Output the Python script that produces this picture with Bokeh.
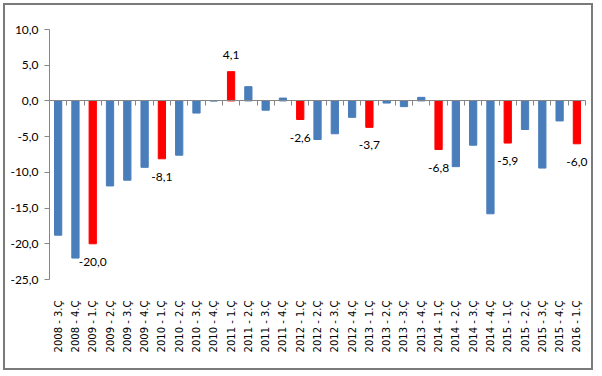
from bokeh.plotting import figure
from bokeh.models import (Range1d, LinearAxis, FixedTicker, LabelSet,
                          CustomJSTickFormatter, ColumnDataSource)
from bokeh.core.properties import value
from bokeh.embed import file_html
from bokeh.resources import INLINE

categories = [
    "2008 - 3.Ç", "2008 - 4.Ç",
    "2009 - 1.Ç", "2009 - 2.Ç", "2009 - 3.Ç", "2009 - 4.Ç",
    "2010 - 1.Ç", "2010 - 2.Ç", "2010 - 3.Ç", "2010 - 4.Ç",
    "2011 - 1.Ç", "2011 - 2.Ç", "2011 - 3.Ç", "2011 - 4.Ç",
    "2012 - 1.Ç", "2012 - 2.Ç", "2012 - 3.Ç", "2012 - 4.Ç",
    "2013 - 1.Ç", "2013 - 2.Ç", "2013 - 3.Ç", "2013 - 4.Ç",
    "2014 - 1.Ç", "2014 - 2.Ç", "2014 - 3.Ç", "2014 - 4.Ç",
    "2015 - 1.Ç", "2015 - 2.Ç", "2015 - 3.Ç", "2015 - 4.Ç",
    "2016 - 1.Ç",
]
values = [
    -18.8, -22.0,
    -20.0, -11.9, -11.1, -9.3,
    -8.1, -7.6, -1.7, 0.0,
    4.1, 2.0, -1.3, 0.4,
    -2.6, -5.4, -4.6, -2.3,
    -3.7, -0.3, -0.8, 0.5,
    -6.8, -9.2, -6.2, -15.8,
    -5.9, -4.0, -9.4, -2.8,
    -6.0,
]
y_ticks = [-25, -20, -15, -10, -5, 0, 5, 10]

BLUE = "#4a7ebb"
RED = "#ff0000"
AXIS_GRAY = "#868686"

n = len(categories)
xs = list(range(1, n + 1))
is_q1 = ["1.Ç" in c for c in categories]
colors = [RED if h else BLUE for h in is_q1]

bar_src = ColumnDataSource(dict(x=xs, top=values, color=colors))

lab_x = [x for x, h in zip(xs, is_q1) if h]
lab_y = [v for v, h in zip(values, is_q1) if h]
lab_t = [f"{v:.1f}".replace(".", ",") for v in lab_y]
lab_off = [-18 if v < 0 else 17 for v in lab_y]
lab_src = ColumnDataSource(dict(x=lab_x, y=lab_y, text=lab_t, off=lab_off))

# a little room right of the last category so its label is not clipped
pad_right = 0.46

p = figure(width=590, height=367, output_backend="svg", toolbar_location=None,
           x_range=Range1d(0.5, n + 0.5 + pad_right),
           y_range=Range1d(min(y_ticks), max(y_ticks)),
           min_border_left=44, min_border_right=2, min_border_top=24, min_border_bottom=93,
           background_fill_color="white", border_fill_color="white",
           styles={"margin": "3px 0 0 3px", "border": "2px solid #7a7a7a"})
p.outline_line_color = None
p.grid.visible = False

p.vbar(x="x", top="top", bottom=0, width=0.42, color="color", source=bar_src)

labels = LabelSet(x="x", y="y", text="text", source=lab_src, y_offset="off",
                  text_align="center", text_baseline="middle",
                  text_font=value("Lato"), text_font_size=value("12px"),
                  text_color="black")
p.add_layout(labels)

# y axis
ya = p.yaxis[0]
ya.ticker = FixedTicker(ticks=y_ticks)
ya.formatter = CustomJSTickFormatter(code="return tick.toFixed(1).replace('.', ',');")
ya.axis_line_color = AXIS_GRAY
ya.major_tick_line_color = AXIS_GRAY
ya.major_tick_out = 5
ya.major_tick_in = 0
ya.minor_tick_line_color = None
ya.major_label_standoff = 6
ya.major_label_text_font = "Lato"
ya.major_label_text_font_size = "12px"
ya.major_label_text_color = "black"

# x axis with category labels at bottom
xa = p.xaxis[0]
xa.ticker = FixedTicker(ticks=xs)
xa.major_label_overrides = {x: c for x, c in zip(xs, categories)}
xa.major_label_orientation = 1.5707963
xa.axis_line_color = None
xa.major_tick_line_color = None
xa.minor_tick_line_color = None
xa.major_label_standoff = 15
xa.major_label_text_font = "DejaVu Sans"
xa.major_label_text_font_size = "10px"
xa.major_label_text_color = "black"

# zero line axis with ticks between categories
za = LinearAxis(fixed_location=0, bounds=(0.5, n + 0.5),
                ticker=FixedTicker(ticks=[i + 0.5 for i in range(n + 1)]))
za.axis_line_color = AXIS_GRAY
za.major_tick_line_color = AXIS_GRAY
za.major_tick_out = 5
za.major_tick_in = 0
za.minor_tick_line_color = None
za.major_label_text_color = None
za.major_label_text_font_size = "1px"
p.add_layout(za, "below")

open("out.html", "w").write(file_html(p, INLINE))
